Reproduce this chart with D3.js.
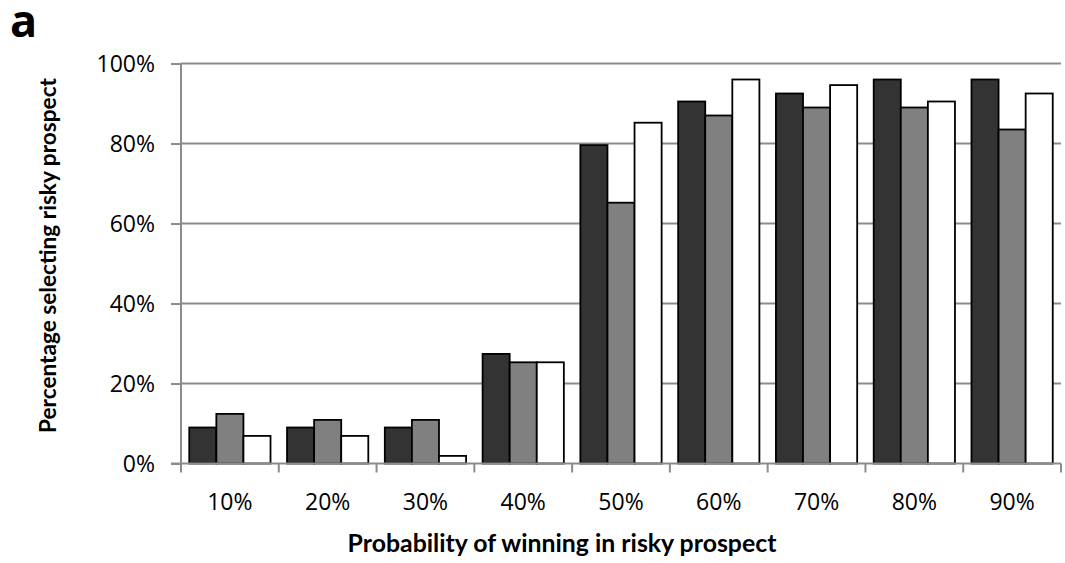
<!DOCTYPE html>
<html>
<head>
<meta charset="utf-8">
<script src="https://cdn.jsdelivr.net/npm/d3@7/dist/d3.min.js"></script>
<style>
  html, body { margin: 0; padding: 0; background: #fff; }
  svg { display: block; font-family: "Open Sans", sans-serif; }
</style>
</head>
<body>
<svg id="chart" width="1065" height="563"></svg>
<script>
// Probability of winning in the risky prospect (categories)
const categories = ["10%", "20%", "30%", "40%", "50%", "60%", "70%", "80%", "90%"];

// Percentage of participants selecting the risky prospect, one array per condition
const seriesDark  = [9, 9, 9, 27.4, 79.6, 90.5, 92.5, 96, 96];
const seriesGray  = [12.4, 10.9, 10.9, 25.3, 65.2, 87, 89, 89, 83.5];
const seriesWhite = [6.9, 6.9, 1.9, 25.3, 85.2, 96, 94.6, 90.5, 92.5];

const yTicks = [0, 20, 40, 60, 80, 100];

const series = [
  { name: "dark",  values: seriesDark,  fill: "#333333" },
  { name: "gray",  values: seriesGray,  fill: "#808080" },
  { name: "white", values: seriesWhite, fill: "#ffffff" }
];

const svg = d3.select("#chart");
const plot = { left: 181, right: 1061, top: 63.5, bottom: 463.5 };

const x = d3.scaleBand()
  .domain(categories)
  .range([plot.left, plot.right])
  .paddingInner(0)
  .paddingOuter(0);

const xInner = d3.scaleBand()
  .domain(series.map(s => s.name))
  .range([0, x.bandwidth()])
  .paddingOuter(0.305)
  .paddingInner(0);

const y = d3.scaleLinear().domain([0, 100]).range([plot.bottom, plot.top]);

// horizontal gridlines
svg.append("g")
  .selectAll("line")
  .data(yTicks.filter(t => t > 0))
  .join("line")
  .attr("x1", plot.left)
  .attr("x2", plot.right)
  .attr("y1", d => y(d))
  .attr("y2", d => y(d))
  .attr("stroke", "#8c8c8c")
  .attr("stroke-width", 2);

// bars
const groups = svg.append("g")
  .selectAll("g")
  .data(series)
  .join("g")
  .attr("fill", d => d.fill);

groups.selectAll("rect")
  .data(s => s.values.map((v, i) => ({ s: s.name, cat: categories[i], v })))
  .join("rect")
  .attr("x", d => x(d.cat) + xInner(d.s))
  .attr("width", xInner.bandwidth())
  .attr("y", d => y(d.v))
  .attr("height", d => y(0) - y(d.v))
  .attr("stroke", "#000")
  .attr("stroke-width", 1.8);

// y axis
const yAxis = svg.append("g")
  .attr("transform", `translate(${plot.left},0)`)
  .call(d3.axisLeft(y).tickValues(yTicks).tickFormat(d => d + "%").tickSize(10).tickPadding(16));
yAxis.select(".domain").attr("stroke", "#8c8c8c").attr("stroke-width", 2)
  .attr("d", `M0,${plot.top}V${plot.bottom}`);
yAxis.selectAll(".tick line").attr("stroke", "#8c8c8c").attr("stroke-width", 2);
yAxis.selectAll(".tick text")
  .attr("fill", "#000")
  .attr("dy", "0.34em")
  .style("font-size", "23px")
  .style("font-family", "'Open Sans', sans-serif");

// x axis: ticks on category boundaries
const xAxisG = svg.append("g").attr("transform", `translate(0,${plot.bottom})`);
xAxisG.append("line")
  .attr("x1", plot.left - 10).attr("x2", plot.right)
  .attr("y1", 0).attr("y2", 0)
  .attr("stroke", "#8c8c8c").attr("stroke-width", 2);
const boundaries = categories.map(c => x(c)).concat([x(categories[categories.length - 1]) + x.bandwidth()]);
xAxisG.selectAll("line.tk")
  .data(boundaries)
  .join("line")
  .attr("class", "tk")
  .attr("x1", d => d).attr("x2", d => d)
  .attr("y1", 0).attr("y2", 9)
  .attr("stroke", "#8c8c8c").attr("stroke-width", 2);
xAxisG.selectAll("text")
  .data(categories)
  .join("text")
  .attr("x", d => x(d) + x.bandwidth() / 2)
  .attr("y", 46.5)
  .attr("text-anchor", "middle")
  .style("font-size", "23px")
  .text(d => d);

// axis titles, sized so each spans its intended length
function fitText(sel, targetWidth) {
  const base = 20;
  sel.style("font-size", base + "px");
  const w = sel.node().getComputedTextLength();
  sel.style("font-size", (base * targetWidth / w).toFixed(2) + "px");
}

const xTitle = svg.append("text")
  .attr("x", 562)
  .attr("y", 552)
  .attr("text-anchor", "middle")
  .style("font-family", "Lato, sans-serif")
  .style("font-weight", "bold")
  .text("Probability of winning in risky prospect");
fitText(xTitle, 429);

const yTitle = svg.append("text")
  .attr("transform", "translate(56,255.5) rotate(-90)")
  .attr("text-anchor", "middle")
  .style("font-family", "Lato, sans-serif")
  .style("font-weight", "bold")
  .text("Percentage selecting risky prospect");
fitText(yTitle, 355);

// panel letter
svg.append("text")
  .attr("x", 10)
  .attr("y", 37)
  .style("font-size", "45px")
  .style("font-weight", "bold")
  .style("font-family", "'Open Sans', sans-serif")
  .text("a");
</script>
</body>
</html>
